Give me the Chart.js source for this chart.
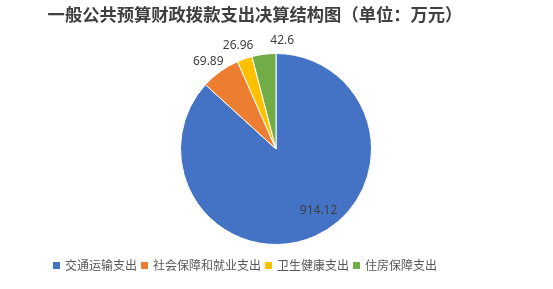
<!DOCTYPE html>
<html>
<head>
<meta charset="utf-8">
<script src="https://cdn.jsdelivr.net/npm/chart.js@4"></script>
<style>
  html,body{margin:0;padding:0;background:#fff;}
  #wrap{position:relative;width:553px;height:289px;overflow:hidden;}
  #c{position:absolute;left:0;top:0;}
  #title{position:absolute;left:0;width:510px;top:3px;text-align:center;
    font-family:"Noto Sans CJK SC";font-weight:bold;font-size:17.3px;color:#404040;line-height:22px;white-space:nowrap;}
  #legend{position:absolute;left:53px;top:257px;font-family:"Noto Sans CJK SC";font-size:12px;color:#595959;white-space:nowrap;line-height:16px;}
  #legend span.item{display:inline-block;margin-right:4px;}
  #legend span.box{display:inline-block;width:7px;height:7px;margin-right:5px;vertical-align:1px;}
</style>
</head>
<body>
<div id="wrap">
  <canvas id="c" width="553" height="289"></canvas>
  <div id="title">一般公共预算财政拨款支出决算结构图（单位：万元）</div>
  <div id="legend"></div>
</div>
<script>
const categories = ["交通运输支出", "社会保障和就业支出", "卫生健康支出", "住房保障支出"];
const values = [914.12, 69.89, 26.96, 42.6];
const valueLabels = ["914.12", "69.89", "26.96", "42.6"];
const colors = ["#4472C4", "#ED7D31", "#FFC000", "#70AD47"];

// legend (HTML)
const lg = document.getElementById('legend');
categories.forEach((c, i) => {
  const it = document.createElement('span');
  it.className = 'item';
  const b = document.createElement('span');
  b.className = 'box';
  b.style.background = colors[i];
  it.appendChild(b);
  it.appendChild(document.createTextNode(c));
  lg.appendChild(it);
});

// label placement: radius relative to outer radius plus small nudges
const labelPlacement = [
  {r: 0.78, da: -11, dx: 0, dy: 0},
  {r: 1.16, da: -2, dx: 0, dy: 0},
  {r: 1.15, da: -1, dx: 0, dy: 0},
  {r: 1.14, da: 0, dx: 20, dy: 0}
];

const labelPlugin = {
  id: 'valueLabels',
  afterDatasetsDraw(chart) {
    const ctx = chart.ctx;
    const meta = chart.getDatasetMeta(0);
    ctx.save();
    ctx.font = '12px "Noto Sans", "Liberation Sans", sans-serif';
    ctx.fillStyle = '#404040';
    ctx.textAlign = 'center';
    ctx.textBaseline = 'middle';
    meta.data.forEach((arc, i) => {
      const p = labelPlacement[i];
      const mid = (arc.startAngle + arc.endAngle) / 2 + p.da * Math.PI / 180;
      const R = arc.outerRadius * p.r;
      const x = arc.x + Math.cos(mid) * R + p.dx;
      const y = arc.y + Math.sin(mid) * R + p.dy;
      ctx.fillText(valueLabels[i], x, y);
    });
    ctx.restore();
  }
};

new Chart(document.getElementById('c'), {
  type: 'pie',
  data: {
    labels: categories,
    datasets: [{
      data: values,
      backgroundColor: colors,
      borderColor: '#ffffff',
      borderWidth: 1
    }]
  },
  options: {
    responsive: false,
    animation: false,
    events: [],
    layout: {padding: {left: 180, right: 181, top: 53, bottom: 44}},
    plugins: {
      legend: {display: false},
      title: {display: false},
      tooltip: {enabled: false}
    }
  },
  plugins: [labelPlugin]
});
</script>
</body>
</html>
